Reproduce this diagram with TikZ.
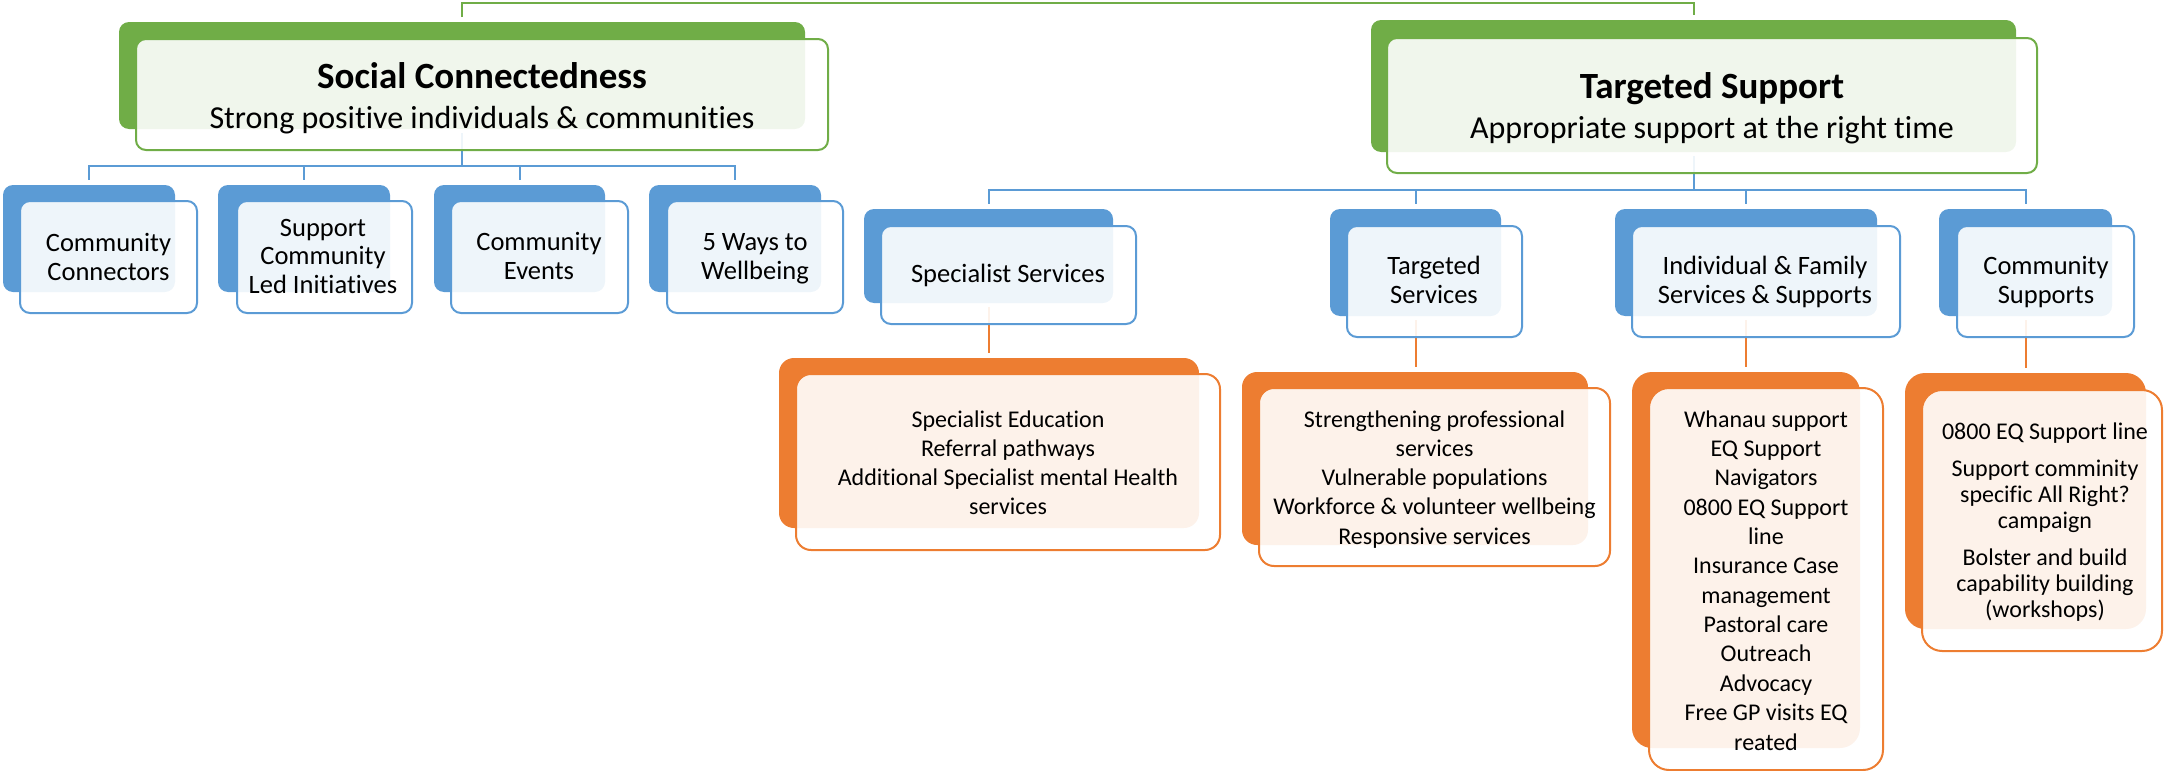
\documentclass[tikz,border=0pt]{standalone}
\usepackage{fontspec}
\setmainfont{Carlito}[Ligatures=NoCommon]
\usetikzlibrary{fit,backgrounds}
\definecolor{sgreen}{HTML}{70AD47}
\definecolor{sblue}{HTML}{5B9BD5}
\definecolor{sorange}{HTML}{ED7D31}
\tikzset{
 backbox/.style={fill=#1, draw=none, inner sep=0pt, outer sep=0pt},
 frontbox/.style={draw=#1, fill=white, fill opacity=0.9, line width=1pt, inner sep=0pt, outer sep=0pt},
 conn/.style={draw=#1, line width=1pt},
 bluetxt/.style={font=\fontsize{13.25}{14.5}\selectfont, align=center, anchor=base, inner sep=0pt},
 orangetxt/.style={font=\fontsize{12}{14.6}\selectfont, align=center, anchor=base, inner sep=0pt},
 titletxt/.style={font=\bfseries\fontsize{18.5}{22}\selectfont, anchor=base, inner sep=0pt},
 subtxt/.style={font=\fontsize{16}{19}\selectfont, anchor=base, inner sep=0pt},
}
\begin{document}
\begin{tikzpicture}[x=0.5pt,y=-0.5pt]
\path[use as bounding box] (0,0) rectangle (2165,771);

% level 1 (green)
\node[backbox=sgreen, rounded corners=5pt, fit={(119,22) (805,129)}] (gl) {};
\node[frontbox=sgreen, rounded corners=5pt, fit={(136,39) (828,150)}] (glf) {};
\node[titletxt] (glt) at (482,88) {Social Connectedness};
\node[subtxt] (gls) at (482,128) {Strong positive individuals \& communities};

\node[backbox=sgreen, rounded corners=5pt, fit={(1371,20) (2016,152)}] (gr) {};
\node[frontbox=sgreen, rounded corners=5pt, fit={(1387,38) (2037,173)}] (grf) {};
\node[titletxt] (grt) at (1712,98) {Targeted Support};
\node[subtxt] (grs) at (1712,138) {Appropriate support at the right time};

% level 2 left (blue); text nodes anchored at the baseline of their last line
\node[backbox=sblue, rounded corners=5pt, fit={(3,185) (175,292)}] (l1) {};
\node[frontbox=sblue, rounded corners=5pt, fit={(20,201) (197,313)}] (l1f) {};
\node[bluetxt] (l1t) at (108.5,280) {Community\\Connectors};

\node[backbox=sblue, rounded corners=5pt, fit={(218,185) (390,292)}] (l2) {};
\node[frontbox=sblue, rounded corners=5pt, fit={(237,201) (412,313)}] (l2f) {};
\node[bluetxt, font=\fontsize{13.25}{14.25}\selectfont] (l2t) at (323,293) {Support\\Community\\Led Initiatives};

\node[backbox=sblue, rounded corners=5pt, fit={(434,185) (605,292)}] (l3) {};
\node[frontbox=sblue, rounded corners=5pt, fit={(451,201) (628,313)}] (l3f) {};
\node[bluetxt] (l3t) at (539,279.5) {Community\\Events};

\node[backbox=sblue, rounded corners=5pt, fit={(649,185) (821,292)}] (l4) {};
\node[frontbox=sblue, rounded corners=5pt, fit={(667,201) (843,313)}] (l4f) {};
\node[bluetxt] (l4t) at (755,279.5) {5 Ways to\\Wellbeing};

% level 2 right (blue)
\node[backbox=sblue, rounded corners=5pt, fit={(864,209) (1113,303)}] (r1) {};
\node[frontbox=sblue, rounded corners=5pt, fit={(881,226) (1136,324)}] (r1f) {};
\node[bluetxt] (r1t) at (1008,282) {Specialist Services};

\node[backbox=sblue, rounded corners=5pt, fit={(1330,209) (1501,316)}] (r2) {};
\node[frontbox=sblue, rounded corners=5pt, fit={(1347,226) (1522,337)}] (r2f) {};
\node[bluetxt] (r2t) at (1434,303) {Targeted\\Services};

\node[backbox=sblue, rounded corners=5pt, fit={(1615,209) (1877,316)}] (r3) {};
\node[frontbox=sblue, rounded corners=5pt, fit={(1632,226) (1900,337)}] (r3f) {};
\node[bluetxt] (r3t) at (1765,303) {Individual \& Family\\Services \& Supports};

\node[backbox=sblue, rounded corners=5pt, fit={(1939,209) (2112,316)}] (r4) {};
\node[frontbox=sblue, rounded corners=5pt, fit={(1957,226) (2134,337)}] (r4f) {};
\node[bluetxt] (r4t) at (2046,303.5) {Community\\Supports};

% level 3 (orange)
\node[backbox=sorange, rounded corners=7.5pt, fit={(779,358) (1199,528)}] (o1) {};
\node[frontbox=sorange, rounded corners=7.5pt, fit={(796,374) (1220,550)}] (o1f) {};
\node[orangetxt, font=\fontsize{12}{14.5}\selectfont] (o1t) at (1008,514) {Specialist Education\\Referral pathways\\Additional Specialist mental Health\\services};

\node[backbox=sorange, rounded corners=7.5pt, fit={(1242,372) (1588,545)}] (o2) {};
\node[frontbox=sorange, rounded corners=7.5pt, fit={(1259,388) (1610,566)}] (o2f) {};
\node[orangetxt] (o2t) at (1434.5,544) {Strengthening professional\\services\\Vulnerable populations\\Workforce \& volunteer wellbeing\\Responsive services};

\node[backbox=sorange, rounded corners=10pt, fit={(1632,372) (1860,748)}] (o3) {};
\node[frontbox=sorange, rounded corners=10pt, fit={(1649,388) (1883,770)}] (o3f) {};
\node[orangetxt, font=\fontsize{12}{14.68}\selectfont] (o3t) at (1766,750) {Whanau support\\EQ Support\\Navigators\\0800 EQ Support\\line\\Insurance Case\\management\\Pastoral care\\Outreach\\Advocacy\\Free GP visits EQ\\reated};

\node[backbox=sorange, rounded corners=10pt, fit={(1905,373) (2146,629)}] (o4) {};
\node[frontbox=sorange, rounded corners=10pt, fit={(1922,390) (2162,651)}] (o4f) {};
\node[orangetxt, font=\fontsize{12}{13}\selectfont] (o4t) at (2045,617) {0800 EQ Support line\\[5.5pt]Support comminity\\specific All Right?\\campaign\\[5.5pt]Bolster and build\\capability building\\(workshops)};

% connectors
\begin{scope}[on background layer]
\coordinate (topmid) at (1078,3);
\coordinate (busL) at (0,166);
\coordinate (busR) at (0,190);
\draw[conn=sgreen, shorten <=2.5pt, shorten >=2.5pt] (gl.north) |- (topmid) -| (gr.north);
\foreach \c in {l1,l2,l3,l4}
  \draw[conn=sblue, shorten <=2pt, shorten >=2.5pt] (gl.south) -- (gl.south |- busL) -| (\c.north);
\foreach \c in {r1,r2,r3,r4}
  \draw[conn=sblue, shorten <=2pt, shorten >=2.5pt] (gr.south) -- (gr.south |- busR) -| (\c.north);
\foreach \p/\c in {r1/o1,r2/o2,r3/o3,r4/o4}
  \draw[conn=sorange, shorten <=2pt, shorten >=2.5pt] (\p.south) -- (\p.south |- \c.north);
\end{scope}
\end{tikzpicture}
\end{document}
